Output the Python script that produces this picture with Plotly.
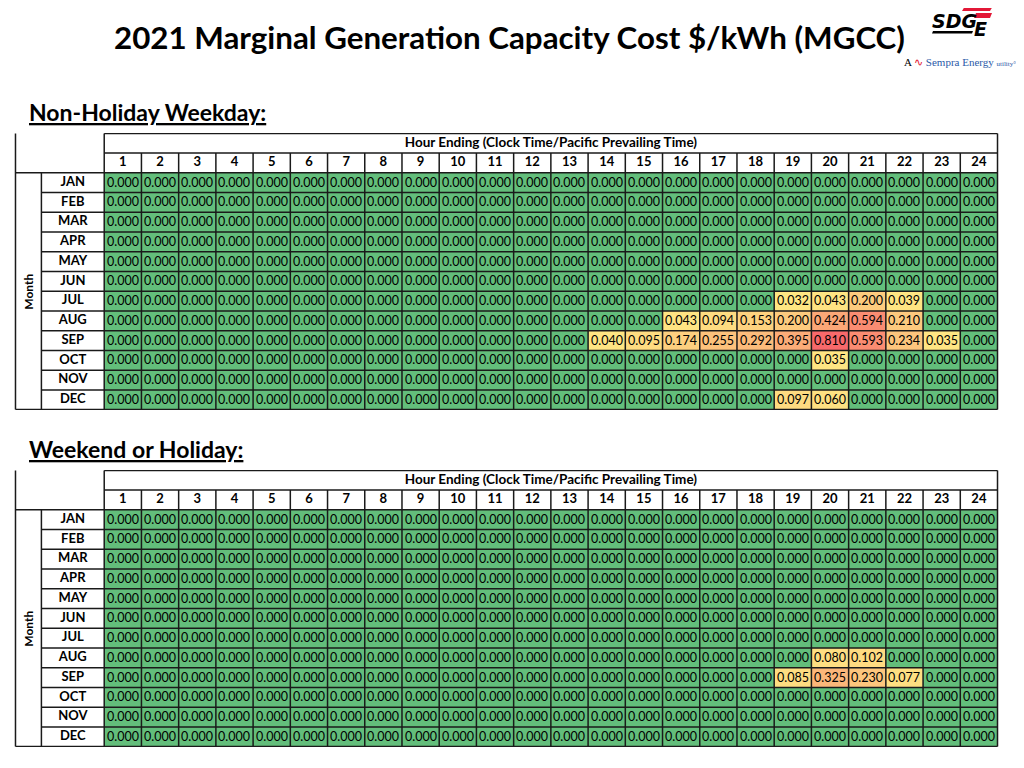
import plotly.graph_objects as go

title_text = "2021 Marginal Generation Capacity Cost $/kWh (MGCC)"
section_titles = ["Non-Holiday Weekday:", "Weekend or Holiday:"]
header_text = "Hour Ending (Clock Time/Pacific Prevailing Time)"
row_axis_label = "Month"

hours = [1, 2, 3, 4, 5, 6, 7, 8, 9, 10, 11, 12, 13, 14, 15, 16, 17, 18, 19, 20, 21, 22, 23, 24]
months = ["JAN", "FEB", "MAR", "APR", "MAY", "JUN", "JUL", "AUG", "SEP", "OCT", "NOV", "DEC"]

weekday = [
    [0.000, 0.000, 0.000, 0.000, 0.000, 0.000, 0.000, 0.000, 0.000, 0.000, 0.000, 0.000, 0.000, 0.000, 0.000, 0.000, 0.000, 0.000, 0.000, 0.000, 0.000, 0.000, 0.000, 0.000],
    [0.000, 0.000, 0.000, 0.000, 0.000, 0.000, 0.000, 0.000, 0.000, 0.000, 0.000, 0.000, 0.000, 0.000, 0.000, 0.000, 0.000, 0.000, 0.000, 0.000, 0.000, 0.000, 0.000, 0.000],
    [0.000, 0.000, 0.000, 0.000, 0.000, 0.000, 0.000, 0.000, 0.000, 0.000, 0.000, 0.000, 0.000, 0.000, 0.000, 0.000, 0.000, 0.000, 0.000, 0.000, 0.000, 0.000, 0.000, 0.000],
    [0.000, 0.000, 0.000, 0.000, 0.000, 0.000, 0.000, 0.000, 0.000, 0.000, 0.000, 0.000, 0.000, 0.000, 0.000, 0.000, 0.000, 0.000, 0.000, 0.000, 0.000, 0.000, 0.000, 0.000],
    [0.000, 0.000, 0.000, 0.000, 0.000, 0.000, 0.000, 0.000, 0.000, 0.000, 0.000, 0.000, 0.000, 0.000, 0.000, 0.000, 0.000, 0.000, 0.000, 0.000, 0.000, 0.000, 0.000, 0.000],
    [0.000, 0.000, 0.000, 0.000, 0.000, 0.000, 0.000, 0.000, 0.000, 0.000, 0.000, 0.000, 0.000, 0.000, 0.000, 0.000, 0.000, 0.000, 0.000, 0.000, 0.000, 0.000, 0.000, 0.000],
    [0.000, 0.000, 0.000, 0.000, 0.000, 0.000, 0.000, 0.000, 0.000, 0.000, 0.000, 0.000, 0.000, 0.000, 0.000, 0.000, 0.000, 0.000, 0.032, 0.043, 0.200, 0.039, 0.000, 0.000],
    [0.000, 0.000, 0.000, 0.000, 0.000, 0.000, 0.000, 0.000, 0.000, 0.000, 0.000, 0.000, 0.000, 0.000, 0.000, 0.043, 0.094, 0.153, 0.200, 0.424, 0.594, 0.210, 0.000, 0.000],
    [0.000, 0.000, 0.000, 0.000, 0.000, 0.000, 0.000, 0.000, 0.000, 0.000, 0.000, 0.000, 0.000, 0.040, 0.095, 0.174, 0.255, 0.292, 0.395, 0.810, 0.593, 0.234, 0.035, 0.000],
    [0.000, 0.000, 0.000, 0.000, 0.000, 0.000, 0.000, 0.000, 0.000, 0.000, 0.000, 0.000, 0.000, 0.000, 0.000, 0.000, 0.000, 0.000, 0.000, 0.035, 0.000, 0.000, 0.000, 0.000],
    [0.000, 0.000, 0.000, 0.000, 0.000, 0.000, 0.000, 0.000, 0.000, 0.000, 0.000, 0.000, 0.000, 0.000, 0.000, 0.000, 0.000, 0.000, 0.000, 0.000, 0.000, 0.000, 0.000, 0.000],
    [0.000, 0.000, 0.000, 0.000, 0.000, 0.000, 0.000, 0.000, 0.000, 0.000, 0.000, 0.000, 0.000, 0.000, 0.000, 0.000, 0.000, 0.000, 0.097, 0.060, 0.000, 0.000, 0.000, 0.000],
]

weekend = [
    [0.000, 0.000, 0.000, 0.000, 0.000, 0.000, 0.000, 0.000, 0.000, 0.000, 0.000, 0.000, 0.000, 0.000, 0.000, 0.000, 0.000, 0.000, 0.000, 0.000, 0.000, 0.000, 0.000, 0.000],
    [0.000, 0.000, 0.000, 0.000, 0.000, 0.000, 0.000, 0.000, 0.000, 0.000, 0.000, 0.000, 0.000, 0.000, 0.000, 0.000, 0.000, 0.000, 0.000, 0.000, 0.000, 0.000, 0.000, 0.000],
    [0.000, 0.000, 0.000, 0.000, 0.000, 0.000, 0.000, 0.000, 0.000, 0.000, 0.000, 0.000, 0.000, 0.000, 0.000, 0.000, 0.000, 0.000, 0.000, 0.000, 0.000, 0.000, 0.000, 0.000],
    [0.000, 0.000, 0.000, 0.000, 0.000, 0.000, 0.000, 0.000, 0.000, 0.000, 0.000, 0.000, 0.000, 0.000, 0.000, 0.000, 0.000, 0.000, 0.000, 0.000, 0.000, 0.000, 0.000, 0.000],
    [0.000, 0.000, 0.000, 0.000, 0.000, 0.000, 0.000, 0.000, 0.000, 0.000, 0.000, 0.000, 0.000, 0.000, 0.000, 0.000, 0.000, 0.000, 0.000, 0.000, 0.000, 0.000, 0.000, 0.000],
    [0.000, 0.000, 0.000, 0.000, 0.000, 0.000, 0.000, 0.000, 0.000, 0.000, 0.000, 0.000, 0.000, 0.000, 0.000, 0.000, 0.000, 0.000, 0.000, 0.000, 0.000, 0.000, 0.000, 0.000],
    [0.000, 0.000, 0.000, 0.000, 0.000, 0.000, 0.000, 0.000, 0.000, 0.000, 0.000, 0.000, 0.000, 0.000, 0.000, 0.000, 0.000, 0.000, 0.000, 0.000, 0.000, 0.000, 0.000, 0.000],
    [0.000, 0.000, 0.000, 0.000, 0.000, 0.000, 0.000, 0.000, 0.000, 0.000, 0.000, 0.000, 0.000, 0.000, 0.000, 0.000, 0.000, 0.000, 0.000, 0.080, 0.102, 0.000, 0.000, 0.000],
    [0.000, 0.000, 0.000, 0.000, 0.000, 0.000, 0.000, 0.000, 0.000, 0.000, 0.000, 0.000, 0.000, 0.000, 0.000, 0.000, 0.000, 0.000, 0.085, 0.325, 0.230, 0.077, 0.000, 0.000],
    [0.000, 0.000, 0.000, 0.000, 0.000, 0.000, 0.000, 0.000, 0.000, 0.000, 0.000, 0.000, 0.000, 0.000, 0.000, 0.000, 0.000, 0.000, 0.000, 0.000, 0.000, 0.000, 0.000, 0.000],
    [0.000, 0.000, 0.000, 0.000, 0.000, 0.000, 0.000, 0.000, 0.000, 0.000, 0.000, 0.000, 0.000, 0.000, 0.000, 0.000, 0.000, 0.000, 0.000, 0.000, 0.000, 0.000, 0.000, 0.000],
    [0.000, 0.000, 0.000, 0.000, 0.000, 0.000, 0.000, 0.000, 0.000, 0.000, 0.000, 0.000, 0.000, 0.000, 0.000, 0.000, 0.000, 0.000, 0.000, 0.000, 0.000, 0.000, 0.000, 0.000],
]

# ---- styling ----
FONT = "Lato"
GREEN, YELLOW, RED = "#63BE7B", "#FFEB84", "#F8696B"
LINE = "#1a1a1a"
zmax = max(max(r) for r in weekday + weekend)
colorscale = [[0.0, GREEN], [0.0001, YELLOW], [1.0, RED]]

# page has an 8px body margin; work in page pixels and convert
OFF = 8
W, H = 1024 - 2 * OFF, 768 - 2 * OFF


def px(x):
    return (x - OFF) / W


def py(y):
    return 1 - (y - OFF) / H


x_left_px, x_right_px, x_data_px = 14, 999, 103
x_month_px = 40
col_w = (x_right_px - x_data_px) / len(hours)
X_LEFT = 0.5 - (x_data_px - x_left_px) / col_w
X_MONTH = 0.5 - (x_data_px - x_month_px) / col_w
X_RIGHT = len(hours) + 0.5
Y_TOP, Y_BOT = -2.5, len(months) - 0.5

tables = [
    dict(z=weekday, top=133, bottom=410, title_y=112),
    dict(z=weekend, top=470, bottom=747, title_y=449),
]

fig = go.Figure()
layout_axes = {}
shapes = []
annotations = []

row_idx = list(range(len(months)))

for i, t in enumerate(tables):
    xa = "x" if i == 0 else "x2"
    ya = "y" if i == 0 else "y2"
    fig.add_trace(go.Heatmap(
        z=t["z"], x=hours, y=row_idx,
        colorscale=colorscale, zmin=0, zmax=zmax, showscale=False,
        texttemplate="%{z:.3f}", textfont=dict(family=FONT, size=12.5, color="black"),
        hoverinfo="skip", xaxis=xa, yaxis=ya,
    ))
    fig.add_trace(go.Scatter(
        x=hours, y=[-1] * len(hours), mode="text", text=["<b>%d</b>" % h for h in hours],
        textfont=dict(family=FONT, size=13, color="black"), textposition="middle center",
        hoverinfo="skip", showlegend=False, xaxis=xa, yaxis=ya,
    ))
    fig.add_trace(go.Scatter(
        x=[(X_MONTH + 0.5) / 2] * len(months), y=row_idx, mode="text",
        text=["<b>%s</b>" % m for m in months],
        textfont=dict(family=FONT, size=13, color="black"), textposition="middle center",
        hoverinfo="skip", showlegend=False, xaxis=xa, yaxis=ya,
    ))
    fig.add_trace(go.Scatter(
        x=[(X_RIGHT + 0.5) / 2], y=[-2], mode="text", text=["<b>%s</b>" % header_text],
        textfont=dict(family=FONT, size=13.5, color="black"), textposition="middle center",
        hoverinfo="skip", showlegend=False, xaxis=xa, yaxis=ya,
    ))

    suffix = "" if i == 0 else "2"
    pad = 0.04
    layout_axes["xaxis" + suffix] = dict(
        domain=[px(x_left_px), px(x_right_px)], range=[X_LEFT - pad, X_RIGHT + pad],
        showgrid=False, zeroline=False, showticklabels=False, ticks="", fixedrange=True,
        anchor=ya,
    )
    layout_axes["yaxis" + suffix] = dict(
        domain=[py(t["bottom"]), py(t["top"])], range=[Y_BOT + pad * 0.5, Y_TOP - pad * 0.5],
        showgrid=False, zeroline=False, showticklabels=False, ticks="", fixedrange=True,
        anchor=xa,
    )

    def line(x0, y0, x1, y1, w=1.5):
        shapes.append(dict(type="line", xref=xa, yref=ya, x0=x0, y0=y0, x1=x1, y1=y1,
                           line=dict(color=LINE, width=w), layer="above"))

    line(0.5, Y_TOP, X_RIGHT, Y_TOP)
    line(0.5, -1.5, X_RIGHT, -1.5)
    line(0.5, Y_TOP, 0.5, Y_BOT)
    line(X_RIGHT, Y_TOP, X_RIGHT, Y_BOT)
    for k in range(1, len(hours)):
        line(k + 0.5, -1.5, k + 0.5, Y_BOT)
    line(X_LEFT, -0.5, X_RIGHT, -0.5)
    for r in range(1, len(months)):
        line(X_MONTH, r - 0.5, X_RIGHT, r - 0.5)
    line(X_LEFT, Y_BOT, X_RIGHT, Y_BOT)
    line(X_LEFT, Y_TOP, X_LEFT, Y_BOT)
    line(X_MONTH, -0.5, X_MONTH, Y_BOT)

    annotations.append(dict(
        xref=xa, yref=ya, x=(X_LEFT + X_MONTH) / 2, y=(len(months) - 1) / 2,
        text="<b>%s</b>" % row_axis_label, textangle=-90, showarrow=False,
        font=dict(family=FONT, size=12, color="black"),
    ))
    annotations.append(dict(
        xref="paper", yref="paper", x=px(27), y=py(t["title_y"]),
        xanchor="left", yanchor="middle",
        text="<b><u>%s</u></b>" % section_titles[i], showarrow=False,
        font=dict(family=FONT, size=23, color="black"),
    ))

# main title
annotations.append(dict(
    xref="paper", yref="paper", x=px(509), y=py(37), xanchor="center", yanchor="middle",
    text="<b>%s</b>" % title_text, showarrow=False,
    font=dict(family=FONT, size=31.3, color="black"),
))
# logo (approximation)
annotations.append(dict(
    xref="paper", yref="paper", x=px(954), y=py(21), xanchor="center", yanchor="middle",
    text="<b><i>SDG</i></b>", showarrow=False,
    font=dict(family="DejaVu Sans", size=19, color="black"),
))
annotations.append(dict(
    xref="paper", yref="paper", x=px(980), y=py(29), xanchor="center", yanchor="middle",
    text="<b><i>E</i></b>", showarrow=False,
    font=dict(family="DejaVu Sans", size=19, color="black"),
))
annotations.append(dict(
    xref="paper", yref="paper", x=px(960), y=py(62), xanchor="center", yanchor="middle",
    text="A <span style='color:#E31837'>&#8767;</span> <span style='color:#2B5AA8'>Sempra Energy</span> <span style='color:#2B5AA8;font-size:7px'>utility°</span>",
    showarrow=False, font=dict(family="Liberation Serif", size=11, color="black"),
))


def para(x0, y0, x1, y1, slant):
    return "M %f %f L %f %f L %f %f L %f %f Z" % (
        px(x0 + slant), py(y0), px(x1 + slant), py(y0), px(x1), py(y1), px(x0), py(y1))


shapes.append(dict(type="path", xref="paper", yref="paper", path=para(962, 6, 990, 11, 3),
                   fillcolor="#E31837", line=dict(width=0), layer="above"))
shapes.append(dict(type="path", xref="paper", yref="paper", path=para(974, 13, 990, 18, 2),
                   fillcolor="#E31837", line=dict(width=0), layer="above"))
shapes.append(dict(type="path", xref="paper", yref="paper", path=para(932, 31, 972, 33.5, 1),
                   fillcolor="black", line=dict(width=0), layer="above"))

fig.update_layout(
    width=W, height=H, margin=dict(l=0, r=0, t=0, b=0),
    paper_bgcolor="white", plot_bgcolor="white",
    showlegend=False, shapes=shapes, annotations=annotations,
    font=dict(family=FONT),
    **layout_axes,
)

fig.write_html("out.html")
